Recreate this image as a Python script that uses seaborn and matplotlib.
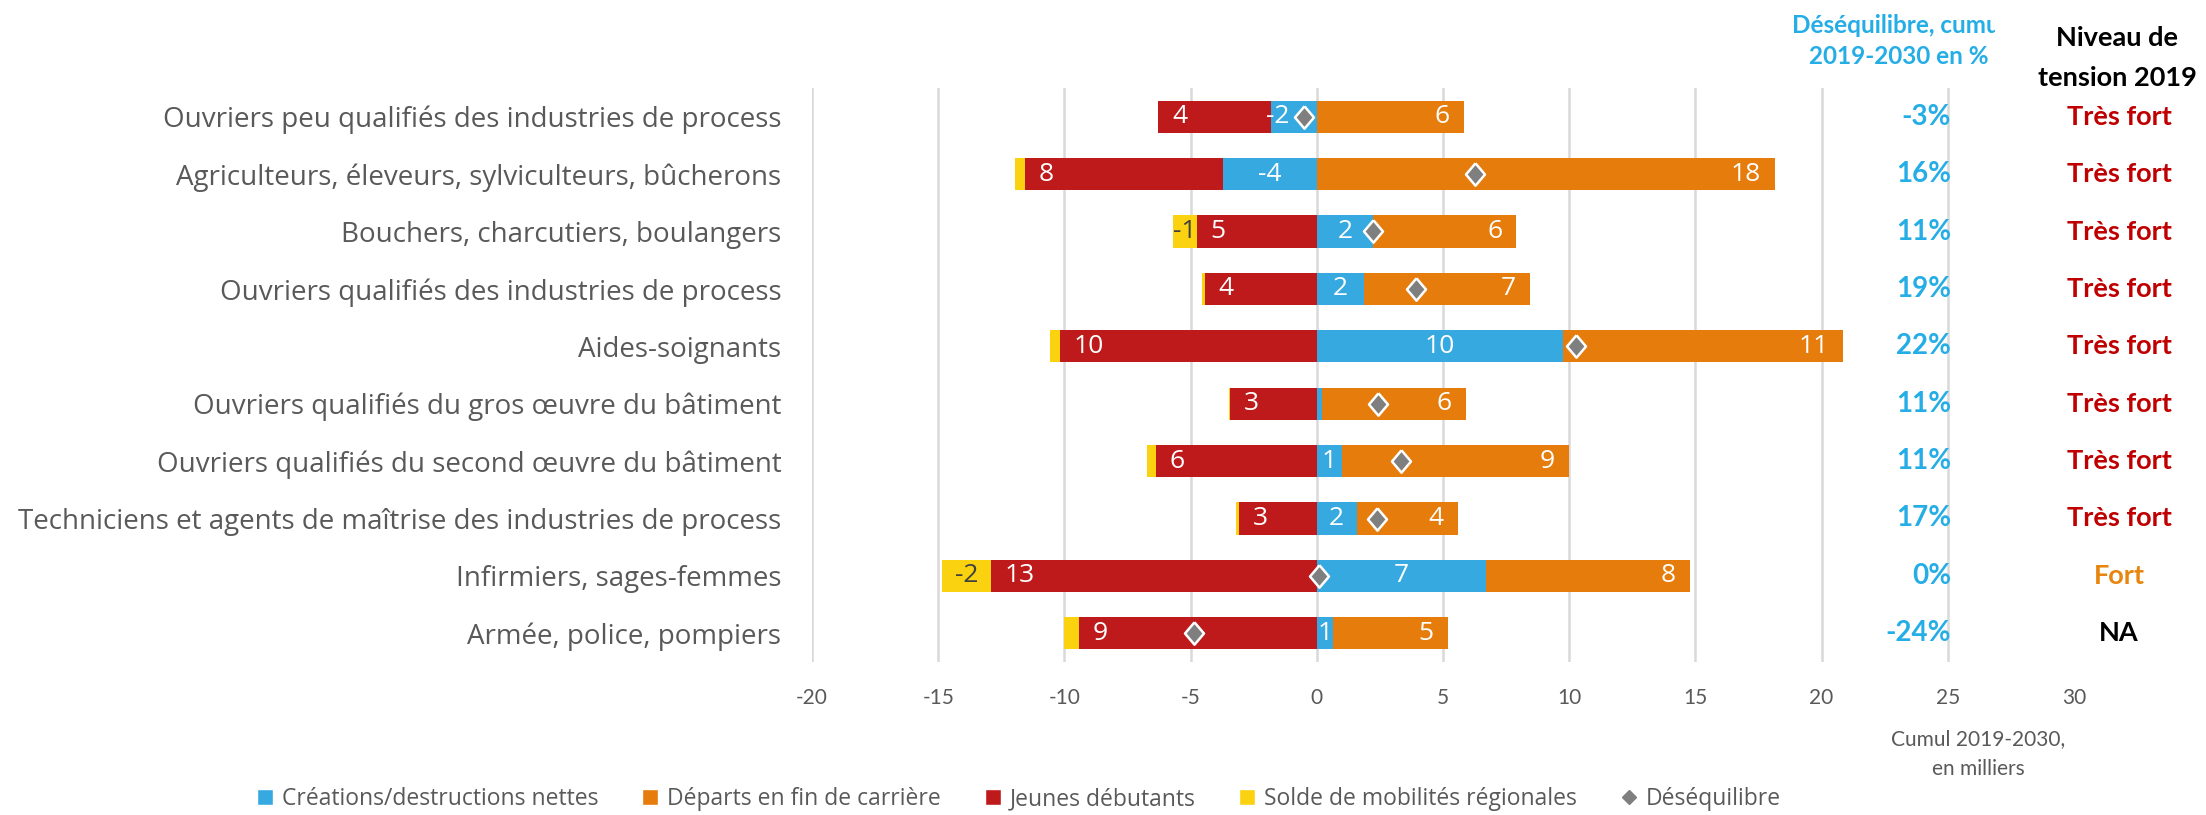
"""
Diverging stacked bars: projected 2019-2030 labour-market imbalance by
occupation (net job creation, retirements, young entrants, regional
mobility), with the imbalance as a diamond marker.
"""

import numpy as np
import pandas as pd
import matplotlib
matplotlib.use("Agg")
import matplotlib.pyplot as plt
import matplotlib.transforms as mtransforms
from matplotlib.patches import Patch
from matplotlib.lines import Line2D
import seaborn as sns

W, H = 2206, 815

# ── Data (thousands, cumulated 2019-2030) ────────────────────────────────────
METIERS = [
    "Ouvriers peu qualifiés des industries de process",
    "Agriculteurs, éleveurs, sylviculteurs, bûcherons",
    "Bouchers, charcutiers, boulangers",
    "Ouvriers qualifiés des industries de process",
    "Aides-soignants",
    "Ouvriers qualifiés du gros œuvre du bâtiment",
    "Ouvriers qualifiés du second œuvre du bâtiment",
    "Techniciens et agents de maîtrise des industries de process",
    "Infirmiers, sages-femmes",
    "Armée, police, pompiers",
]
CREATIONS    = [-1.83, -3.73, 2.24, 1.88, 9.74, 0.20, 0.99, 1.58, 6.71, 0.66]
DEPARTS      = [5.82, 18.14, 5.66, 6.55, 11.09, 5.70, 8.99, 4.00, 8.08, 4.52]
JEUNES       = [4.45, 7.84, 4.76, 4.44, 10.19, 3.45, 6.39, 3.07, 12.91, 9.43]
MOBILITES    = [-0.03, -0.40, -0.93, -0.10, -0.40, -0.04, -0.33, -0.14, -1.93, -0.60]
DESEQUILIBRE = [-0.50, 6.25, 2.24, 3.92, 10.28, 2.42, 3.35, 2.38, 0.10, -4.85]
DESEQ_PCT    = ["-3%", "16%", "11%", "19%", "22%", "11%", "11%", "17%", "0%", "-24%"]
TENSION      = ["Très fort"] * 8 + ["Fort", "NA"]
X_TICKS      = [-20, -15, -10, -5, 0, 5, 10, 15, 20, 25, 30]

LEGEND_LABELS = [
    "Créations/destructions nettes",
    "Départs en fin de carrière",
    "Jeunes débutants",
    "Solde de mobilités régionales",
    "Déséquilibre",
]

# ── Style ────────────────────────────────────────────────────────────────────
BLUE, ORANGE, RED, YELLOW = "#36A9E1", "#E57C0C", "#BE1A1B", "#FAD20F"
GREY_TXT = "#595959"
PCT_BLUE = "#25ADE6"
TENSION_COLORS = {"Très fort": "#C00000", "Fort": "#E8850F", "NA": "#000000"}
BAR_H = 0.56
DIAMOND = [(0, 1), (0.85, 0), (0, -1), (-0.85, 0), (0, 1)]
LABEL_FONT = ["Open Sans", "DejaVu Sans"]

sns.set_theme(style="white")
plt.rcParams["font.family"] = ["Lato", "DejaVu Sans"]
plt.rcParams["xtick.major.pad"] = 19

df = pd.DataFrame({
    "metier": METIERS,
    "pos": np.arange(len(METIERS)),
    "creations": CREATIONS,
    "departs": DEPARTS,
    "jeunes": JEUNES,
    "mobilites": MOBILITES,
    "deseq": DESEQUILIBRE,
})
# stacking: blue next to zero, red then yellow to the left, orange to the right
df["blue_neg"] = df["creations"].clip(upper=0)
df["blue_pos"] = df["creations"].clip(lower=0)
df["red_end"] = df["blue_neg"] - df["jeunes"]
df["yellow_end"] = df["red_end"] + df["mobilites"]
df["orange_end"] = df["blue_pos"] + df["departs"]

fig = plt.figure(figsize=(W / 100, H / 100), dpi=100)
ax = fig.add_axes([812 / W, 1 - 662 / H, (2074 - 812) / W, (662 - 88) / H])

# longest segment first, shorter ones painted over it
for col, color in [("yellow_end", YELLOW), ("red_end", RED), ("blue_neg", BLUE),
                   ("orange_end", ORANGE), ("blue_pos", BLUE)]:
    sns.barplot(data=df, x=col, y="metier", order=METIERS, orient="y",
                color=color, saturation=1, width=BAR_H, errorbar=None,
                linewidth=0, ax=ax)

sns.scatterplot(data=df, x="deseq", y="pos", marker=DIAMOND, s=260,
                color="#7F7F7F", edgecolor="white", linewidth=1.8,
                zorder=5, legend=False, ax=ax)

# value labels
lbl = dict(va="center", fontsize=19, family=LABEL_FONT, zorder=6)
for _, r in df.iterrows():
    y = r["pos"]
    ax.text(r["red_end"] + 0.55, y, f"{r['jeunes']:.0f}", ha="left", color="white", **lbl)
    ax.text(r["orange_end"] - 0.55, y, f"{r['departs']:.0f}", ha="right", color="white", **lbl)
    if abs(r["creations"]) >= 0.5:
        xc, ha = r["creations"] / 2, "center"
        if abs(r["deseq"] - xc) < 0.8:      # keep clear of the diamond
            xc, ha = r["deseq"] - 0.6, "right"
        ax.text(xc, y, f"{r['creations']:.0f}", ha=ha, color="white", **lbl)
    if abs(r["mobilites"]) >= 0.8:
        ax.text(r["red_end"] + r["mobilites"] / 2, y, f"{r['mobilites']:.0f}",
                ha="center", color="#404040", **lbl)

ax.set_xlim(-20, 30)
ax.set_ylim(len(METIERS) - 0.5, -0.5)
ax.set_xticks(X_TICKS)
ax.set_xticklabels([str(t) for t in X_TICKS])
ax.set_xlabel("")
ax.set_ylabel("")
ax.xaxis.grid(True, color="#D9D9D9", linewidth=1.8)
ax.yaxis.grid(False)
ax.get_xgridlines()[-1].set_visible(False)
ax.set_axisbelow(True)
sns.despine(ax=ax, left=True, bottom=True)
ax.tick_params(axis="x", length=0, pad=19, labelsize=15, labelcolor=GREY_TXT)
ax.tick_params(axis="y", length=0, pad=22, labelsize=20, labelcolor=GREY_TXT)
for t in ax.get_yticklabels():
    t.set_family(LABEL_FONT)

# right-hand columns
blend = mtransforms.blended_transform_factory(fig.transFigure, ax.transData)
for i, (pct, lvl) in enumerate(zip(DESEQ_PCT, TENSION)):
    ax.text(1951 / W, i, pct, transform=blend, ha="right", va="center",
            fontsize=20, fontweight="bold", color=PCT_BLUE)
    ax.text(2119 / W, i, lvl, transform=blend, ha="center", va="center",
            fontsize=19.5, fontweight="bold", color=TENSION_COLORS[lvl])

hdr = fig.text(1899 / W, 1 - 41 / H, "Déséquilibre, cumul\n2019-2030 en %",
               ha="center", va="center", fontsize=17.5, fontweight="bold",
               color=PCT_BLUE, linespacing=1.45)
hdr.set_clip_box(mtransforms.TransformedBbox(
    mtransforms.Bbox([[0, 0], [1995 / W, 1]]), fig.transFigure))
hdr.set_clip_on(True)

fig.text(2117 / W, 1 - 58 / H, "Niveau de\ntension 2019", ha="center", va="center",
         fontsize=19.5, fontweight="bold", color="black", linespacing=1.75)

fig.text(1978 / W, 1 - 754 / H, "Cumul 2019-2030,\nen milliers", ha="center",
         va="center", fontsize=15, color=GREY_TXT, linespacing=1.6)

handles = [
    Patch(facecolor=BLUE), Patch(facecolor=ORANGE), Patch(facecolor=RED),
    Patch(facecolor=YELLOW),
    Line2D([], [], linestyle="none", marker="D", markersize=7, color="#7F7F7F"),
]
fig.legend(handles, LEGEND_LABELS, loc="center", bbox_to_anchor=(1019 / W, 1 - 799 / H),
           ncol=5, frameon=False, prop={"family": LABEL_FONT, "size": 16.5},
           labelcolor=GREY_TXT, handlelength=0.7, handleheight=0.7,
           handletextpad=0.4, columnspacing=1.9)

fig.savefig("out.png", dpi=100)
